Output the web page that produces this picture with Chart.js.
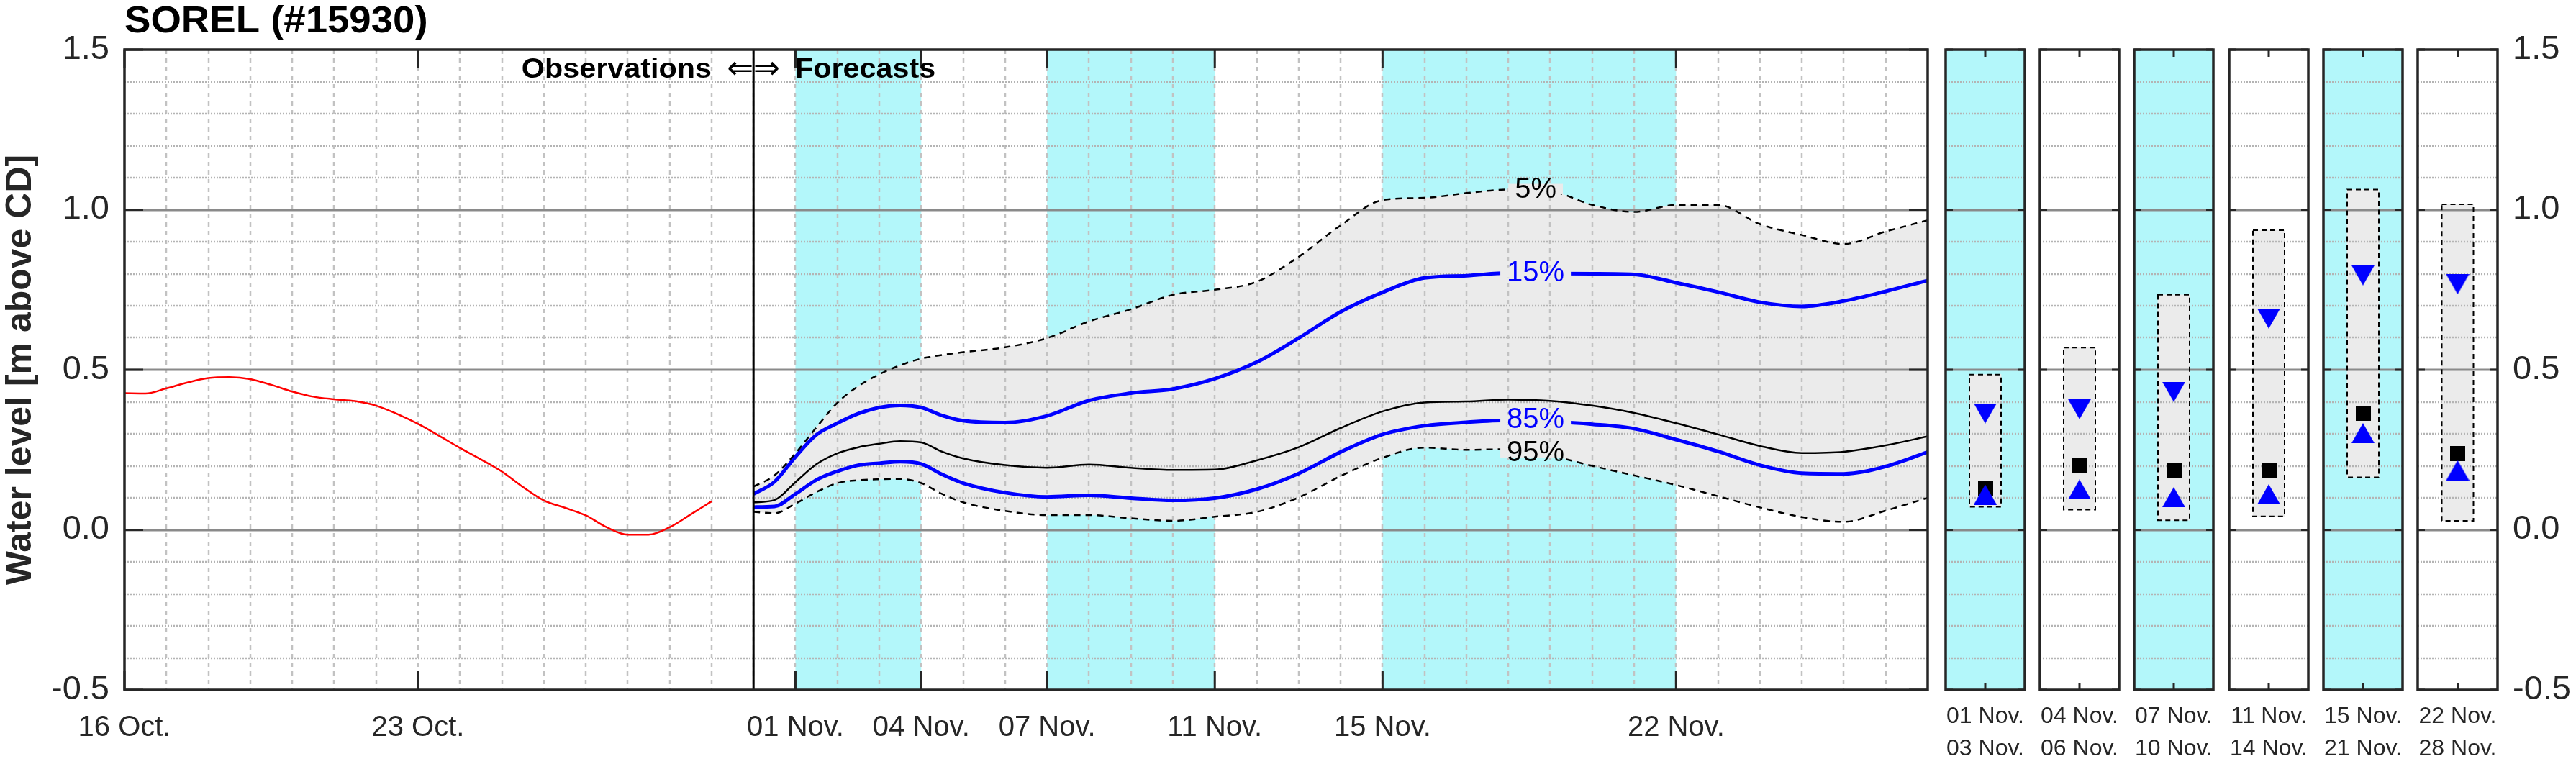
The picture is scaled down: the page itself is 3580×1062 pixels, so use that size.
<!DOCTYPE html>
<html>
<head>
<meta charset="utf-8">
<title>SOREL (#15930)</title>
<script src="https://cdn.jsdelivr.net/npm/chart.js@4.4.1/dist/chart.umd.min.js"></script>
<style>
    html, body { margin: 0; padding: 0; background: #fff; }
    #stage { position: relative; width: 3580px; height: 1062px; overflow: hidden; }
    #stage canvas { position: absolute; top: 0; }
</style>
</head>
<body>
<div id="stage"></div>
<script>
'use strict';

// ---- data (days counted from 16 Oct. 00h) ----
const obsDays = [0, 0.5, 1, 1.5, 2, 2.5, 3, 3.5, 4, 4.5, 5, 5.5, 6, 6.5, 7, 7.5,
    8, 8.5, 9, 9.5, 10, 10.5, 11, 11.5, 12, 12.5, 13, 13.5, 14];
const obsLevel = [0.427, 0.426, 0.442, 0.460, 0.474, 0.477, 0.471, 0.453, 0.432, 0.416,
    0.408, 0.402, 0.388, 0.362, 0.331, 0.294, 0.256, 0.220, 0.182, 0.134, 0.092, 0.069,
    0.045, 0.008, -0.015, -0.015, 0.008, 0.048, 0.089];

const fcDays = [15, 15.5, 16, 16.5, 17, 17.5, 18, 18.5, 19, 19.5, 20, 21, 22, 23, 24, 25,
    26, 27, 28, 29, 30, 31, 32, 33, 34, 35, 36, 37, 38, 39, 40, 41, 42, 43];
const p05 = [0.135, 0.170, 0.239, 0.320, 0.397, 0.449, 0.486, 0.514, 0.535, 0.546, 0.555,
    0.570, 0.599, 0.651, 0.689, 0.734, 0.750, 0.775, 0.853, 0.951, 1.030, 1.037, 1.052,
    1.063, 1.058, 1.015, 0.993, 1.015, 1.015, 0.955, 0.921, 0.893, 0.932, 0.967];
const p15 = [0.112, 0.150, 0.228, 0.297, 0.333, 0.363, 0.382, 0.389, 0.382, 0.357, 0.341,
    0.335, 0.356, 0.404, 0.427, 0.440, 0.472, 0.524, 0.599, 0.681, 0.742, 0.787, 0.794,
    0.802, 0.801, 0.800, 0.798, 0.772, 0.743, 0.711, 0.698, 0.715, 0.745, 0.779];
const p50 = [0.086, 0.093, 0.149, 0.205, 0.239, 0.258, 0.269, 0.277, 0.273, 0.244, 0.223,
    0.202, 0.194, 0.204, 0.194, 0.187, 0.188, 0.217, 0.258, 0.318, 0.370, 0.398, 0.401,
    0.407, 0.403, 0.388, 0.365, 0.333, 0.298, 0.262, 0.240, 0.244, 0.264, 0.292];
const p85 = [0.071, 0.073, 0.112, 0.156, 0.183, 0.202, 0.208, 0.213, 0.206, 0.173, 0.146,
    0.116, 0.103, 0.108, 0.099, 0.092, 0.099, 0.127, 0.176, 0.243, 0.298, 0.325, 0.336,
    0.342, 0.338, 0.330, 0.316, 0.282, 0.245, 0.202, 0.177, 0.175, 0.198, 0.243];
const p95 = [0.056, 0.052, 0.082, 0.118, 0.146, 0.155, 0.158, 0.159, 0.146, 0.112, 0.086,
    0.059, 0.046, 0.046, 0.036, 0.028, 0.041, 0.056, 0.101, 0.168, 0.225, 0.257, 0.250,
    0.252, 0.232, 0.200, 0.170, 0.140, 0.105, 0.070, 0.040, 0.025, 0.060, 0.100];

const tickDays = [0, 7, 16, 19, 22, 26, 30, 37];
const tickLabels = ['16 Oct.', '23 Oct.', '01 Nov.', '04 Nov.', '07 Nov.', '11 Nov.', '15 Nov.', '22 Nov.'];
const levelTicks = [-0.5, 0, 0.5, 1.0, 1.5];
const cyanPeriods = [[16, 19], [22, 26], [30, 37]];
const forecastStart = 15;

const pctText = ['5%', '15%', '85%', '95%'];
const pctLevel = [1.065, 0.804, 0.344, 0.241];
const pctDay = 33.65;

// summary panels, one per period
const panelLabels = [['01 Nov.', '03 Nov.'], ['04 Nov.', '06 Nov.'], ['07 Nov.', '10 Nov.'],
    ['11 Nov.', '14 Nov.'], ['15 Nov.', '21 Nov.'], ['22 Nov.', '28 Nov.']];
const panelLow = [0.072, 0.063, 0.030, 0.042, 0.164, 0.028];
const panelHigh = [0.485, 0.569, 0.734, 0.936, 1.063, 1.017];
const panelP15 = [0.364, 0.377, 0.431, 0.660, 0.795, 0.767];
const panelMedian = [0.128, 0.202, 0.187, 0.185, 0.365, 0.239];
const panelP85 = [0.110, 0.126, 0.102, 0.111, 0.302, 0.186];
const panelCyan = [true, false, true, false, true, false];

// ---- look ----
const H = 1062;
const FONT = '"Liberation Sans", Arial, sans-serif';
const INK = '#262626';
const CYAN = '#b3f7fa';
const BAND = '#ebebeb';
const BLUE = '#0000ff';

const stage = document.getElementById('stage');

function addCanvas(left, width) {
    const c = document.createElement('canvas');
    c.width = width;
    c.height = H;
    c.style.left = left + 'px';
    c.style.width = width + 'px';
    c.style.height = H + 'px';
    stage.appendChild(c);
    return c;
}

function seg(ctx, x0, y0, x1, y1) {
    ctx.beginPath();
    ctx.moveTo(x0, y0);
    ctx.lineTo(x1, y1);
    ctx.stroke();
}

// text with a small horizontal stretch
function wideText(ctx, text, x, y, font, sx, align) {
    ctx.save();
    ctx.font = font;
    ctx.textAlign = align;
    ctx.textBaseline = 'alphabetic';
    ctx.translate(x, y);
    ctx.scale(sx, 1);
    ctx.fillText(text, 0, 0);
    ctx.restore();
}

/**
 * Matlab-like axes: background bands, grid above the fills, inside ticks, box
 */
const axesLook = {
    id: 'axesLook',
    defaults: {},

    beforeDatasetsDraw(chart, args, o) {
        const { ctx, chartArea: a, scales: { x } } = chart;
        ctx.save();
        ctx.fillStyle = CYAN;
        if (o.fullCyan) ctx.fillRect(a.left, a.top, a.width, a.height);
        (o.bands || []).forEach(([d0, d1]) => {
            const x0 = x.getPixelForValue(d0);
            const x1 = x.getPixelForValue(d1);
            ctx.fillRect(x0, a.top, x1 - x0, a.height);
        });
        ctx.restore();
    },

    afterDatasetDraw(chart, args, o) {
        if (args.index !== 0) return;
        const { ctx, chartArea: a, scales: { x, y } } = chart;
        ctx.save();

        // daily dashed grid
        if (o.dayGrid) {
            ctx.strokeStyle = '#c2c2c2';
            ctx.lineWidth = 2.5;
            ctx.setLineDash([6, 6]);
            for (let d = Math.ceil(x.min) + 1; d < x.max; d++) {
                const px = Math.round(x.getPixelForValue(d));
                seg(ctx, px, a.top, px, a.bottom);
            }
        }

        // 0.1 dotted, 0.5 solid
        for (let i = -4; i <= 14; i++) {
            const py = Math.round(y.getPixelForValue(i / 10));
            if (i % 5 === 0) {
                ctx.setLineDash([]);
                ctx.strokeStyle = '#8a8a8a';
                ctx.lineWidth = 3;
            } else {
                ctx.setLineDash([2, 2]);
                ctx.strokeStyle = '#b4b4b4';
                ctx.lineWidth = 2.5;
            }
            seg(ctx, a.left, py, a.right, py);
        }

        // dashed outline of the floating bar (summary panels)
        if (o.boxOutline) {
            const bar = chart.getDatasetMeta(0).data[0];
            const p = bar.getProps(['x', 'y', 'base', 'width'], true);
            ctx.setLineDash([7, 5]);
            ctx.strokeStyle = '#000';
            ctx.lineWidth = 2;
            ctx.strokeRect(p.x - p.width / 2, Math.min(p.y, p.base), p.width, Math.abs(p.base - p.y));
        }
        ctx.restore();
    },

    afterDatasetsDraw(chart, args, o) {
        const { ctx, chartArea: a, scales: { x, y } } = chart;
        ctx.save();

        // inline percentile labels
        (o.pctLabels || []).forEach(l => {
            const px = x.getPixelForValue(l.day);
            const py = y.getPixelForValue(l.value);
            ctx.font = `40px ${FONT}`;
            const w = ctx.measureText(l.text).width;
            ctx.fillStyle = BAND;
            ctx.fillRect(px - w / 2 - 9, py - 7, w + 18, 14);
            ctx.fillStyle = l.color;
            ctx.textAlign = 'center';
            ctx.textBaseline = 'middle';
            ctx.fillText(l.text, px, py + 1);
        });

        // observations / forecasts separator
        if (o.sepDay != null) {
            const sx = x.getPixelForValue(o.sepDay);
            ctx.strokeStyle = '#000';
            ctx.lineWidth = 3;
            seg(ctx, sx, a.top, sx, a.bottom);
        }

        // inside ticks
        const L = o.tickLen || 10;
        ctx.strokeStyle = INK;
        ctx.lineWidth = 3;
        const xs = o.xTicks ? o.xTicks.map(v => x.getPixelForValue(v)) : [x.getPixelForValue(0)];
        xs.forEach(px => {
            seg(ctx, px, a.bottom, px, a.bottom - L);
            seg(ctx, px, a.top, px, a.top + L);
        });
        levelTicks.forEach(v => {
            const py = y.getPixelForValue(v);
            seg(ctx, a.left, py, a.left + L, py);
            seg(ctx, a.right, py, a.right - L, py);
        });

        // box
        ctx.lineWidth = 3.5;
        ctx.strokeRect(a.left, a.top, a.width, a.height);
        ctx.restore();
    },

    afterDraw(chart, args, o) {
        if (!o.headings) return;
        const ctx = chart.ctx;
        ctx.save();
        ctx.fillStyle = '#000';
        wideText(ctx, 'SOREL (#15930)', 173, 45, `bold 51px ${FONT}`, 1.07, 'left');
        wideText(ctx, 'Observations', 989, 108, `bold 39px ${FONT}`, 1.06, 'right');
        wideText(ctx, 'Forecasts', 1105, 108, `bold 39px ${FONT}`, 1.06, 'left');
        ctx.font = '44px "DejaVu Sans"';
        ctx.textAlign = 'center';
        ctx.textBaseline = 'middle';
        ctx.fillText('\u21D0\u21D2', 1047, 98);

        // y axis title
        ctx.fillStyle = INK;
        ctx.translate(43, 514);
        ctx.rotate(-Math.PI / 2);
        ctx.font = `bold 50px ${FONT}`;
        ctx.textAlign = 'center';
        ctx.textBaseline = 'alphabetic';
        ctx.fillText('Water level [m above CD]', 0, 0);
        ctx.restore();
    }
};

Chart.register(axesLook);

function points(days, values) {
    return days.map((d, i) => ({ x: d, y: values[i] }));
}

const lineBase = {
    pointRadius: 0,
    cubicInterpolationMode: 'monotone',
    fill: false
};

/**
 * Main hydrograph: observations then forecast percentiles
 */
function initMainChart() {
    const canvas = addCanvas(0, 2700);

    new Chart(canvas, {
        type: 'line',
        data: {
            datasets: [
                {
                    ...lineBase,
                    label: '5-95%',
                    data: points(fcDays, p05),
                    borderWidth: 0,
                    borderColor: 'rgba(0,0,0,0)',
                    backgroundColor: BAND,
                    fill: 5,
                    order: 10
                },
                { ...lineBase, label: 'Observations', data: points(obsDays, obsLevel), borderColor: '#ff0000', borderWidth: 2.5 },
                { ...lineBase, label: '5%', data: points(fcDays, p05), borderColor: '#000', borderWidth: 2.5, borderDash: [9, 7] },
                { ...lineBase, label: '15%', data: points(fcDays, p15), borderColor: BLUE, borderWidth: 5 },
                { ...lineBase, label: '50%', data: points(fcDays, p50), borderColor: '#000', borderWidth: 2.5 },
                { ...lineBase, label: '95%', data: points(fcDays, p95), borderColor: '#000', borderWidth: 2.5, borderDash: [9, 7] },
                { ...lineBase, label: '85%', data: points(fcDays, p85), borderColor: BLUE, borderWidth: 5 }
            ]
        },
        options: {
            responsive: false,
            animation: false,
            devicePixelRatio: 1,
            layout: { padding: { left: 0, right: 21, top: 69, bottom: 0 } },
            plugins: {
                legend: { display: false },
                tooltip: { enabled: false },
                axesLook: {
                    bands: cyanPeriods,
                    dayGrid: true,
                    sepDay: forecastStart,
                    xTicks: tickDays,
                    tickLen: 26,
                    headings: true,
                    pctLabels: pctText.map((t, i) => ({
                        text: t,
                        day: pctDay,
                        value: pctLevel[i],
                        color: (t === '15%' || t === '85%') ? BLUE : '#000'
                    }))
                }
            },
            scales: {
                x: {
                    type: 'linear',
                    min: 0,
                    max: 43,
                    grid: { display: false },
                    border: { display: false },
                    afterBuildTicks: scale => {
                        scale.ticks = tickDays.map(v => ({ value: v }));
                    },
                    afterFit: scale => {
                        scale.height = 103;
                    },
                    ticks: {
                        autoSkip: false,
                        maxRotation: 0,
                        padding: 21,
                        color: INK,
                        font: { family: FONT, size: 40 },
                        callback: v => tickLabels[tickDays.indexOf(v)]
                    }
                },
                y: {
                    min: -0.5,
                    max: 1.5,
                    grid: { display: false, drawTicks: false },
                    border: { display: false },
                    afterFit: scale => {
                        scale.width = 173;
                    },
                    ticks: {
                        stepSize: 0.5,
                        padding: 21,
                        color: INK,
                        font: { family: FONT, size: 47 },
                        callback: v => v.toFixed(1)
                    }
                }
            }
        }
    });
}

function markerImage(kind) {
    const c = document.createElement('canvas');
    const g = c.getContext('2d');
    if (kind === 'square') {
        c.width = 21;
        c.height = 21;
        g.fillStyle = '#000';
        g.fillRect(0, 0, 21, 21);
        return c;
    }
    c.width = 32;
    c.height = 28;
    g.fillStyle = BLUE;
    g.beginPath();
    if (kind === 'up') {
        g.moveTo(16, 0);
        g.lineTo(32, 28);
        g.lineTo(0, 28);
    } else {
        g.moveTo(0, 0);
        g.lineTo(32, 0);
        g.lineTo(16, 28);
    }
    g.closePath();
    g.fill();
    return c;
}

const squareMark = markerImage('square');
const upMark = markerImage('up');
const downMark = markerImage('down');

/**
 * One summary panel per forecast period
 */
function initPanel(i) {
    const PANEL_X0 = 2704;
    const PANEL_STEP = 131.2;
    const last = i === panelLabels.length - 1;
    const left = Math.round(PANEL_X0 + i * PANEL_STEP) - 20;
    const canvas = addCanvas(left, last ? 239 : 150);

    const marker = (label, value, img, order) => ({
        type: 'line',
        label: label,
        data: [value],
        showLine: false,
        pointStyle: img,
        pointRadius: 10,
        order: order
    });

    new Chart(canvas, {
        type: 'bar',
        data: {
            labels: [panelLabels[i]],
            datasets: [
                {
                    label: '5-95%',
                    data: [[panelLow[i], panelHigh[i]]],
                    backgroundColor: BAND,
                    borderWidth: 0,
                    barThickness: 44,
                    order: 10
                },
                marker('median', panelMedian[i], squareMark, 3),
                marker('15%', panelP15[i], downMark, 2),
                marker('85%', panelP85[i], upMark, 1)
            ]
        },
        options: {
            responsive: false,
            animation: false,
            devicePixelRatio: 1,
            layout: { padding: { left: 20, right: last ? 0 : 20, top: 69, bottom: 0 } },
            plugins: {
                legend: { display: false },
                tooltip: { enabled: false },
                axesLook: {
                    fullCyan: panelCyan[i],
                    boxOutline: true,
                    tickLen: 10
                }
            },
            scales: {
                x: {
                    // tickLength only pushes the labels down, no tick marks are drawn
                    grid: { display: false, drawTicks: true, tickLength: 15 },
                    border: { display: false },
                    afterFit: scale => {
                        scale.height = 103;
                    },
                    ticks: {
                        autoSkip: false,
                        maxRotation: 0,
                        padding: 0,
                        color: INK,
                        font: { family: FONT, size: 32, lineHeight: 45 / 32 }
                    }
                },
                y: {
                    display: last,
                    position: 'right',
                    min: -0.5,
                    max: 1.5,
                    grid: { display: false, drawTicks: false },
                    border: { display: false },
                    afterFit: scale => {
                        // only the last panel carries the right-hand level axis
                        scale.width = last ? 108 : 0;
                    },
                    ticks: {
                        stepSize: 0.5,
                        padding: 21,
                        color: INK,
                        font: { family: FONT, size: 47 },
                        callback: v => v.toFixed(1)
                    }
                }
            }
        }
    });
}

initMainChart();
panelLabels.forEach((p, i) => initPanel(i));
</script>
</body>
</html>
